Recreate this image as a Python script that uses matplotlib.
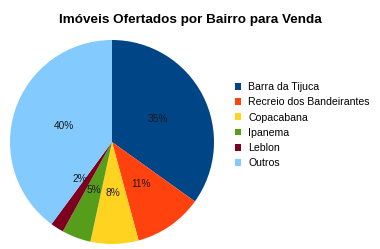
import matplotlib.pyplot as plt
from matplotlib.patches import Patch

bairros = ["Barra da Tijuca", "Recreio dos Bandeirantes", "Copacabana",
           "Ipanema", "Leblon", "Outros"]
percentuais = [34.9, 10.9, 7.6, 4.6, 2.1, 39.9]
cores = ["#004586", "#ff420e", "#ffd320", "#579d1c", "#7e0021", "#83caff"]

plt.rcParams["font.family"] = ["Liberation Sans", "DejaVu Sans"]

fig = plt.figure(figsize=(3.8, 2.49), dpi=100)
ax = fig.add_axes([10 / 380, 5 / 249, 204 / 380, 204 / 249])

wedges, texts, autotexts = ax.pie(
    percentuais,
    colors=cores,
    startangle=90,
    counterclock=False,
    autopct="%.0f%%",
    pctdistance=0.5,
    textprops={"fontsize": 7.3, "color": "#1a1a1a"},
)
# the small Leblon label sits a bit further round, as in the original
x, y = autotexts[4].get_position()
autotexts[4].set_position((x - 0.045, y + 0.06))

ax.set_xlim(-1, 1)
ax.set_ylim(-1, 1)
ax.set_aspect("equal")

fig.text(0.5, 0.92, "Imóveis Ofertados por Bairro para Venda",
         ha="center", va="center", fontsize=9.7, fontweight="bold")

handles = [Patch(facecolor=c, edgecolor="none") for c in cores]
fig.legend(
    handles, bairros,
    loc="upper left",
    bbox_to_anchor=(235 / 380, 1 - 82 / 249),
    frameon=False,
    fontsize=7.6,
    handlelength=0.6,
    handleheight=0.6,
    handletextpad=0.65,
    labelspacing=0.5,
    borderaxespad=0,
    borderpad=0,
)

fig.savefig("out.png", dpi=100)
